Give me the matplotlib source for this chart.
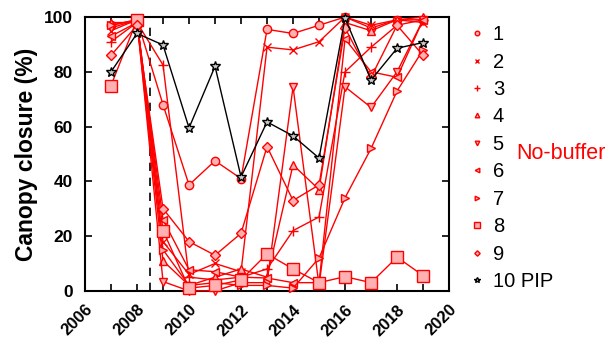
import matplotlib
matplotlib.use("Agg")
import matplotlib.pyplot as plt
from matplotlib.ticker import MultipleLocator
from matplotlib.lines import Line2D
from matplotlib.transforms import ScaledTranslation

plt.rcParams['font.family'] = ['Liberation Sans', 'DejaVu Sans']

years = [2007, 2008, 2009, 2010, 2011, 2012, 2013, 2014, 2015, 2016, 2017, 2018, 2019]
s1 = [97, 99, 68, 38.7, 47.5, 41, 95.5, 94, 97, 100, 96, 99, 99]
s2 = [95, 99, 18, 6, 10, 7, 89, 88, 91, 100, 97, 99, 98]
s3 = [91, 98, 82.5, 5, 4, 5, 8, 22, 27, 80, 89, 97, 99]
s4 = [98, 98, 11, 2, 5, 8, 5, 46, 37, 98, 95, 99, 100]
s5 = [96, 99, 3.4, 0, 0, 3, 3, 74.5, 2, 74.5, 67, 80, 99]
s6 = [93, 98, 26, 7.7, 7, 5, 4.7, 3, 3, 92, 80, 78, 99]
s7 = [97, 99, 15, 2, 3, 2, 2, 1, 12, 34, 52, 73, 88]
s8 = [75, 99, 22, 1, 2, 4, 13.5, 8, 3, 5.2, 3, 12.3, 5.6]
s9 = [86, 97, 30, 18, 13, 21, 52.7, 33, 38.7, 96, 78, 97, 86]
pip = [80, 94, 89.8, 59.5, 82, 41.6, 61.7, 56.6, 48.5, 99.6, 77, 88.6, 90.7]

labels = ['1', '2', '3', '4', '5', '6', '7', '8', '9', '10 PIP']
markers = ['o', 'x', '+', '^', 'v', '<', '>', 's', 'D', '*']
sizes = [6, 6, 7, 6, 6, 6, 6, 8, 5, 7]
series = [s1, s2, s3, s4, s5, s6, s7, s8, s9, pip]
disturb_year = 2008.5

fig = plt.figure(figsize=(6.16, 3.41), dpi=100)
ax = fig.add_axes([0.138, 0.147, 0.591, 0.803])

handles = []
for i, (vals, m, lab, ms) in enumerate(zip(series, markers, labels, sizes)):
    if lab == '10 PIP':
        col, fc, z = 'black', '#c8c8c8', 5
    else:
        col, fc, z = 'red', '#ffb0b0', 3
    ax.plot(years, vals, color=col, lw=1.0, marker=m, markersize=ms,
            markerfacecolor=fc, markeredgecolor=col, markeredgewidth=1.0,
            zorder=z, clip_on=False)
    handles.append(Line2D([], [], ls='none', marker=m, markersize=ms * 0.55,
                          markerfacecolor=fc, markeredgecolor=col,
                          markeredgewidth=1.0, label=lab))

ax.plot([disturb_year, disturb_year], [0, 97], color='black', lw=1.2,
        ls=(0, (5, 4)), zorder=2)

ax.set_xlim(2006, 2020)
ax.set_ylim(0, 100)
xt = list(range(2006, 2021))
ax.set_xticks(xt)
ax.set_xticklabels([str(y) if y % 2 == 0 else '' for y in xt],
                   rotation=45, ha='right', va='top', rotation_mode='anchor',
                   fontsize=12, fontweight='bold')
off = ScaledTranslation(5 / 100, 0, fig.dpi_scale_trans)
for lbl in ax.get_xticklabels():
    lbl.set_transform(lbl.get_transform() + off)
ax.yaxis.set_major_locator(MultipleLocator(20))
ax.tick_params(axis='both', direction='in', top=True, right=True, length=5,
               width=1.2)
ax.tick_params(axis='x', pad=8)
ax.tick_params(axis='y', labelsize=12.5, pad=9)
for lbl in ax.get_yticklabels():
    lbl.set_fontweight('bold')
for sp in ax.spines.values():
    sp.set_linewidth(1.5)

ax.set_ylabel('Canopy closure (%)', fontsize=16.5, fontweight='bold', labelpad=4)

leg = ax.legend(handles=handles, loc='upper left', bbox_to_anchor=(1.037, 1.0),
                frameon=False, fontsize=14.5, handlelength=0.6,
                handletextpad=0.5, labelspacing=0.42, borderaxespad=0)

fig.text(0.838, 0.551, 'No-buffer', color='red', fontsize=15.5, va='center')

fig.savefig('out.png', dpi=100)
